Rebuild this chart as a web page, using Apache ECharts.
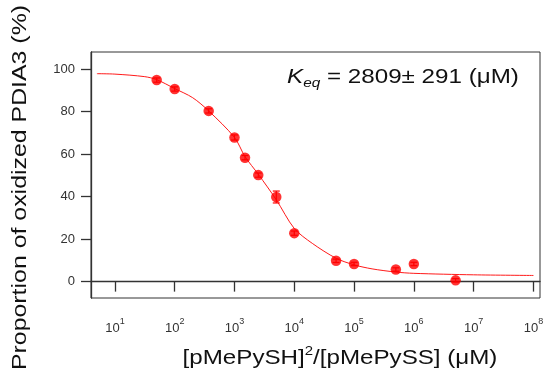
<!DOCTYPE html>
<html>
<head>
<meta charset="utf-8">
<script src="https://cdn.jsdelivr.net/npm/echarts@6/dist/echarts.min.js"></script>
<style>
html,body{margin:0;padding:0;background:#fff;}
#chart{width:543px;height:371px;}
</style>
</head>
<body>
<div id="chart"></div>
<script>
// Measured points (x in µM, y in %)
const xValues = [50, 100, 370, 1000, 1500, 2500, 5000, 10000, 50000, 100000, 500000, 1000000, 5000000];
const yValues = [94.8, 90.6, 80.3, 67.8, 58.3, 50.1, 39.8, 22.8, 9.8, 8.3, 5.7, 8.3, 0.6];
const yErrors = [1.0, 1.0, 1.0, 1.2, 1.0, 1.0, 2.8, 1.0, 0.8, 0.8, 0.8, 0.8, 0.8];
// Fitted curve
const fitX = [5, 10, 31.6, 50, 100, 200, 370, 1000, 1500, 2500, 5000, 10000, 20000, 50000, 100000, 200000, 500000, 1000000, 10000000, 100000000];
const fitY = [97.8, 97.6, 96.4, 95.0, 90.8, 86.5, 80.3, 67.8, 58.8, 50.5, 38.5, 25.0, 18.0, 11.0, 7.9, 6.0, 4.5, 3.9, 3.2, 2.9];
// Tick labels
const xTickExponents = [1, 2, 3, 4, 5, 6, 7, 8];
const yTicks = [0, 20, 40, 60, 80, 100];
const keqText = {value: '2809', err: '291'};

const FONT = '"Liberation Sans", Arial, Helvetica, sans-serif';
const lg = v => Math.log10(v);

const points = xValues.map((x, i) => [lg(x), yValues[i]]);
const errData = xValues.map((x, i) => [lg(x), yValues[i] - yErrors[i], yValues[i] + yErrors[i]]);
const curve = fitX.map((x, i) => [lg(x), fitY[i]]);

const chart = echarts.init(document.getElementById('chart'), null, {renderer: 'canvas'});
chart.setOption({
  backgroundColor: '#fff',
  animation: false,
  grid: {left: 91, right: 3, top: 52, bottom: 73, show: true, borderColor: '#333', borderWidth: 1, containLabel: false, outerBoundsMode: 'none'},
  xAxis: {
    type: 'value', min: 0.6, max: 8.11,
    splitLine: {show: false},
    axisLine: {show: true, lineStyle: {color: '#333', width: 1.3}},
    axisTick: {show: true, length: 10, inside: false, lineStyle: {color: '#333', width: 1.3}, customValues: xTickExponents},
    axisLabel: {
      show: true, margin: 19, customValues: xTickExponents,
      formatter: v => '{b|10}{s|' + Math.round(v) + '}',
      rich: {
        b: {fontSize: 13, fontFamily: FONT, color: '#333', lineHeight: 22, verticalAlign: 'middle'},
        s: {fontSize: 9, fontFamily: FONT, color: '#333', verticalAlign: 'top'}
      }
    }
  },
  yAxis: {
    type: 'value', min: -7.7, max: 108,
    splitLine: {show: false},
    axisLine: {show: true, lineStyle: {color: '#333', width: 1.3}},
    axisTick: {show: true, length: 10, inside: false, lineStyle: {color: '#333', width: 1.3}, customValues: yTicks},
    axisLabel: {show: true, margin: 16, customValues: yTicks, fontSize: 13, fontFamily: FONT, color: '#333'}
  },
  series: [
    {
      type: 'line', data: curve, showSymbol: false, symbol: 'none', smooth: 0.3,
      lineStyle: {color: '#ff1a1a', width: 1}, z: 2, silent: true
    },
    {
      type: 'custom', data: errData, z: 3, silent: true,
      renderItem: (params, api) => {
        const x = api.value(0);
        const lo = api.coord([x, api.value(1)]);
        const hi = api.coord([x, api.value(2)]);
        const w = 3.5;
        const st = {stroke: '#ff0000', lineWidth: 1.2};
        return {type: 'group', children: [
          {type: 'line', shape: {x1: lo[0], y1: lo[1], x2: hi[0], y2: hi[1]}, style: st},
          {type: 'line', shape: {x1: lo[0]-w, y1: lo[1], x2: lo[0]+w, y2: lo[1]}, style: st},
          {type: 'line', shape: {x1: hi[0]-w, y1: hi[1], x2: hi[0]+w, y2: hi[1]}, style: st}
        ]};
      }
    },
    {
      type: 'scatter', data: points, symbol: 'circle', symbolSize: 10.5,
      itemStyle: {color: '#ff0000'}, z: 4
    }
  ],
  graphic: [
    {
      type: 'text', x: 287, y: 77, scaleX: 1.18, z: 10,
      style: {
        text: '{k|K}{sub|eq}{t| = ' + keqText.value + '\u00b1 ' + keqText.err + ' (\u03bcM)}',
        align: 'left', verticalAlign: 'middle',
        rich: {
          k: {fontSize: 20.5, fontFamily: FONT, fontStyle: 'italic', fill: '#111', lineHeight: 26, verticalAlign: 'middle'},
          sub: {fontSize: 13, fontFamily: FONT, fontStyle: 'italic', fill: '#111', lineHeight: 26, verticalAlign: 'bottom'},
          t: {fontSize: 20.5, fontFamily: FONT, fill: '#111', lineHeight: 26, verticalAlign: 'middle'}
        }
      }
    },
    {
      type: 'text', x: 340, y: 358, scaleX: 1.15, z: 10,
      style: {
        text: '{t|[pMePySH]}{s|2}{t|/[pMePySS] (\u03bcM)}',
        align: 'center', verticalAlign: 'middle',
        rich: {
          t: {fontSize: 21, fontFamily: FONT, fill: '#111', lineHeight: 26, verticalAlign: 'middle'},
          s: {fontSize: 13, fontFamily: FONT, fill: '#111', lineHeight: 26, verticalAlign: 'top'}
        }
      }
    },
    {
      type: 'text', x: 20, y: 187.5, rotation: Math.PI / 2, scaleX: 1.185, z: 10,
      style: {
        text: 'Proportion of oxidized PDIA3 (%)',
        align: 'center', verticalAlign: 'middle',
        fontSize: 21, fontFamily: FONT, fill: '#111'
      }
    }
  ]
});
</script>
</body>
</html>
